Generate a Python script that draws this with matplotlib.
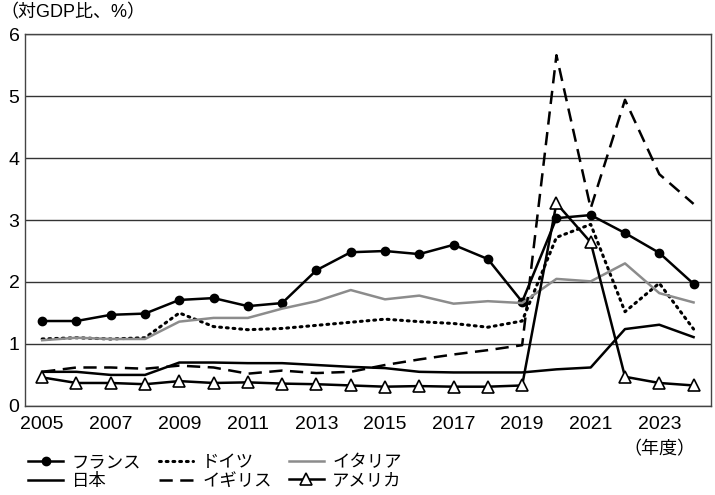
import matplotlib
matplotlib.use("Agg")
import matplotlib.pyplot as plt

plt.rcParams['font.family'] = ['Liberation Sans', 'Noto Sans CJK JP']

years = list(range(2005, 2025))

france = [1.37, 1.37, 1.47, 1.49, 1.71, 1.74, 1.61, 1.66, 2.19, 2.48,
          2.50, 2.45, 2.60, 2.37, 1.68, 3.03, 3.08, 2.79, 2.47, 1.97]
germany = [1.08, 1.10, 1.08, 1.10, 1.50, 1.28, 1.23, 1.25, 1.30, 1.35,
           1.40, 1.36, 1.33, 1.27, 1.37, 2.72, 2.93, 1.52, 1.98, 1.24]
italy = [1.06, 1.10, 1.08, 1.08, 1.36, 1.42, 1.42, 1.57, 1.69, 1.87,
         1.72, 1.78, 1.65, 1.69, 1.66, 2.05, 2.01, 2.30, 1.82, 1.67]
japan = [0.55, 0.55, 0.50, 0.50, 0.70, 0.70, 0.69, 0.69, 0.66, 0.63,
         0.61, 0.55, 0.54, 0.54, 0.54, 0.59, 0.62, 1.24, 1.31, 1.11]
uk = [0.55, 0.62, 0.62, 0.60, 0.65, 0.62, 0.52, 0.57, 0.53, 0.55,
      0.66, 0.75, 0.83, 0.90, 0.98, 5.66, 3.19, 4.94, 3.74, 3.26]
usa = [0.46, 0.37, 0.37, 0.35, 0.40, 0.37, 0.38, 0.36, 0.35, 0.33,
       0.31, 0.32, 0.31, 0.31, 0.33, 3.27, 2.64, 0.47, 0.37, 0.33]

xticks = list(range(2005, 2024, 2))
yticks = [0, 1, 2, 3, 4, 5, 6]

fig = plt.figure(figsize=(7.15, 4.95), dpi=100)
ax = fig.add_axes([0.035, 0.18, 0.959, 0.751])

lw = 1.8
h_fr, = ax.plot(years, france, color='black', lw=lw, marker='o', markersize=6,
                label='フランス')
h_de, = ax.plot(years, germany, color='black', lw=2.2, linestyle=(0, (0.6, 1.6)),
                dash_capstyle='round', label='ドイツ')
h_it, = ax.plot(years, italy, color='#8c8c8c', lw=lw, label='イタリア')
h_jp, = ax.plot(years, japan, color='black', lw=lw, label='日本')
h_uk, = ax.plot(years, uk, color='black', lw=lw, linestyle=(0, (5.3, 3)),
                label='イギリス')
h_us, = ax.plot(years, usa, color='black', lw=lw, marker='^', markersize=9,
                markerfacecolor='white', markeredgecolor='black',
                markeredgewidth=1.2, label='アメリカ')

ax.set_xlim(2004.5, 2024.5)
ax.set_ylim(0, 6)
ax.set_xticks(xticks)
ax.set_xticklabels([str(y) for y in xticks])
ax.set_yticks(yticks)
ax.tick_params(length=0, labelsize=14)
ax.tick_params(axis='x', pad=7)
ax.tick_params(axis='y', pad=4)
ax.grid(axis='y', color='#333333', lw=1.0)
ax.set_axisbelow(True)
for s in ax.spines.values():
    s.set_color('#444444')
    s.set_linewidth(1.0)

fig.text(0.0, 0.975, '（対GDP比、%）', fontsize=13, ha='left', va='center')
ax.text(2023, -0.7, '（年度）', fontsize=13, ha='center', va='center')

handles = [h_fr, h_jp, h_de, h_uk, h_it, h_us]
fig.legend(handles=handles, labels=[h.get_label() for h in handles],
           ncol=3, loc='upper left', bbox_to_anchor=(0.03, 0.095),
           frameon=False, fontsize=12.5, handlelength=2.0, handletextpad=0.5,
           columnspacing=1.0, labelspacing=0.15, borderaxespad=0)

fig.savefig('out.png', dpi=100)
